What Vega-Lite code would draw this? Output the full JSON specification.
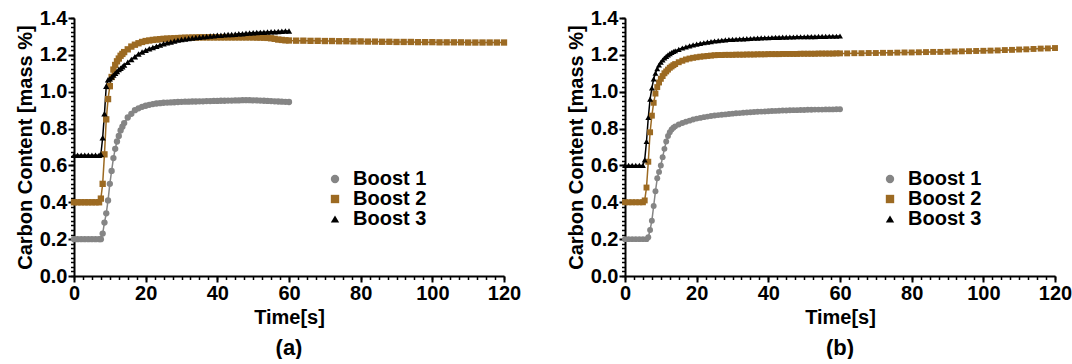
{
"$schema": "https://vega.github.io/schema/vega-lite/v6.json",
"padding": {"left": 15, "top": 8, "right": 0, "bottom": 0},
"config": {
  "font": "Liberation Sans",
  "view": {"stroke": null},
  "axis": {"domainColor": "black", "domainWidth": 2, "tickColor": "black", "tickWidth": 2, "tickSize": 6, "labelFont": "Liberation Sans", "labelFontSize": 20, "labelFontWeight": "bold", "labelColor": "black", "labelFlush": false, "labelOverlap": false, "titleFont": "Liberation Sans", "titleFontSize": 20, "titleFontWeight": "bold", "titleColor": "black", "grid": false, "labelPadding": 1},
  "legend": {"title": null, "labelFont": "Liberation Sans", "labelFontSize": 20, "labelFontWeight": "bold", "labelColor": "black", "rowPadding": 0, "labelOffset": 8, "symbolSize": 70, "symbolStrokeWidth": 0},
  "title": {"font": "Liberation Sans", "fontSize": 22, "fontWeight": "bold", "color": "black"}
},
"datasets": {
"a": [
{"s":"Boost 1","t":0,"c":0.2},{"s":"Boost 1","t":1,"c":0.2},{"s":"Boost 1","t":2,"c":0.2},{"s":"Boost 1","t":3,"c":0.2},{"s":"Boost 1","t":4,"c":0.2},{"s":"Boost 1","t":5,"c":0.2},{"s":"Boost 1","t":6,"c":0.2},{"s":"Boost 1","t":7,"c":0.2},{"s":"Boost 1","t":7.5,"c":0.2},{"s":"Boost 1","t":8,"c":0.23},{"s":"Boost 1","t":8.5,"c":0.29},{"s":"Boost 1","t":9,"c":0.34},{"s":"Boost 1","t":9.5,"c":0.41},{"s":"Boost 1","t":10,"c":0.5},{"s":"Boost 1","t":10.5,"c":0.57},{"s":"Boost 1","t":11,"c":0.64},{"s":"Boost 1","t":11.5,"c":0.69},{"s":"Boost 1","t":12,"c":0.73},{"s":"Boost 1","t":12.5,"c":0.76},{"s":"Boost 1","t":13,"c":0.79},{"s":"Boost 1","t":13.5,"c":0.81},{"s":"Boost 1","t":14,"c":0.83},{"s":"Boost 1","t":15,"c":0.86},{"s":"Boost 1","t":16,"c":0.88},{"s":"Boost 1","t":17,"c":0.9},{"s":"Boost 1","t":18,"c":0.91},{"s":"Boost 1","t":19,"c":0.918},{"s":"Boost 1","t":20,"c":0.924},{"s":"Boost 1","t":21,"c":0.929},{"s":"Boost 1","t":22,"c":0.933},{"s":"Boost 1","t":23,"c":0.936},{"s":"Boost 1","t":24,"c":0.938},{"s":"Boost 1","t":25,"c":0.94},{"s":"Boost 1","t":26,"c":0.941},{"s":"Boost 1","t":27,"c":0.942},{"s":"Boost 1","t":28,"c":0.943},{"s":"Boost 1","t":29,"c":0.944},{"s":"Boost 1","t":30,"c":0.945},{"s":"Boost 1","t":31,"c":0.946},{"s":"Boost 1","t":32,"c":0.946},{"s":"Boost 1","t":33,"c":0.947},{"s":"Boost 1","t":34,"c":0.947},{"s":"Boost 1","t":35,"c":0.948},{"s":"Boost 1","t":36,"c":0.948},{"s":"Boost 1","t":37,"c":0.949},{"s":"Boost 1","t":38,"c":0.949},{"s":"Boost 1","t":39,"c":0.95},{"s":"Boost 1","t":40,"c":0.95},{"s":"Boost 1","t":41,"c":0.951},{"s":"Boost 1","t":42,"c":0.951},{"s":"Boost 1","t":43,"c":0.952},{"s":"Boost 1","t":44,"c":0.952},{"s":"Boost 1","t":45,"c":0.953},{"s":"Boost 1","t":46,"c":0.953},{"s":"Boost 1","t":47,"c":0.954},{"s":"Boost 1","t":48,"c":0.954},{"s":"Boost 1","t":49,"c":0.954},{"s":"Boost 1","t":50,"c":0.953},{"s":"Boost 1","t":51,"c":0.953},{"s":"Boost 1","t":52,"c":0.952},{"s":"Boost 1","t":53,"c":0.951},{"s":"Boost 1","t":54,"c":0.95},{"s":"Boost 1","t":55,"c":0.949},{"s":"Boost 1","t":56,"c":0.948},{"s":"Boost 1","t":57,"c":0.947},{"s":"Boost 1","t":58,"c":0.946},{"s":"Boost 1","t":59,"c":0.945},{"s":"Boost 1","t":60,"c":0.944},
{"s":"Boost 2","t":0,"c":0.4},{"s":"Boost 2","t":1,"c":0.4},{"s":"Boost 2","t":2,"c":0.4},{"s":"Boost 2","t":3,"c":0.4},{"s":"Boost 2","t":4,"c":0.4},{"s":"Boost 2","t":5,"c":0.4},{"s":"Boost 2","t":6,"c":0.4},{"s":"Boost 2","t":7,"c":0.4},{"s":"Boost 2","t":7.5,"c":0.42},{"s":"Boost 2","t":8,"c":0.5},{"s":"Boost 2","t":8.5,"c":0.66},{"s":"Boost 2","t":9,"c":0.85},{"s":"Boost 2","t":9.5,"c":0.96},{"s":"Boost 2","t":10,"c":1.03},{"s":"Boost 2","t":10.5,"c":1.08},{"s":"Boost 2","t":11,"c":1.12},{"s":"Boost 2","t":11.5,"c":1.145},{"s":"Boost 2","t":12,"c":1.165},{"s":"Boost 2","t":12.5,"c":1.18},{"s":"Boost 2","t":13,"c":1.195},{"s":"Boost 2","t":13.5,"c":1.205},{"s":"Boost 2","t":14,"c":1.215},{"s":"Boost 2","t":15,"c":1.23},{"s":"Boost 2","t":16,"c":1.245},{"s":"Boost 2","t":17,"c":1.255},{"s":"Boost 2","t":18,"c":1.263},{"s":"Boost 2","t":19,"c":1.27},{"s":"Boost 2","t":20,"c":1.275},{"s":"Boost 2","t":21,"c":1.278},{"s":"Boost 2","t":22,"c":1.281},{"s":"Boost 2","t":23,"c":1.283},{"s":"Boost 2","t":24,"c":1.285},{"s":"Boost 2","t":25,"c":1.287},{"s":"Boost 2","t":26,"c":1.288},{"s":"Boost 2","t":27,"c":1.289},{"s":"Boost 2","t":28,"c":1.29},{"s":"Boost 2","t":29,"c":1.291},{"s":"Boost 2","t":30,"c":1.292},{"s":"Boost 2","t":31,"c":1.293},{"s":"Boost 2","t":32,"c":1.293},{"s":"Boost 2","t":33,"c":1.294},{"s":"Boost 2","t":34,"c":1.294},{"s":"Boost 2","t":35,"c":1.295},{"s":"Boost 2","t":36,"c":1.295},{"s":"Boost 2","t":37,"c":1.295},{"s":"Boost 2","t":38,"c":1.295},{"s":"Boost 2","t":39,"c":1.295},{"s":"Boost 2","t":40,"c":1.295},{"s":"Boost 2","t":41,"c":1.295},{"s":"Boost 2","t":42,"c":1.295},{"s":"Boost 2","t":43,"c":1.295},{"s":"Boost 2","t":44,"c":1.295},{"s":"Boost 2","t":45,"c":1.295},{"s":"Boost 2","t":46,"c":1.295},{"s":"Boost 2","t":47,"c":1.295},{"s":"Boost 2","t":48,"c":1.295},{"s":"Boost 2","t":49,"c":1.295},{"s":"Boost 2","t":50,"c":1.295},{"s":"Boost 2","t":51,"c":1.294},{"s":"Boost 2","t":52,"c":1.294},{"s":"Boost 2","t":53,"c":1.293},{"s":"Boost 2","t":54,"c":1.292},{"s":"Boost 2","t":55,"c":1.29},{"s":"Boost 2","t":56,"c":1.287},{"s":"Boost 2","t":57,"c":1.283},{"s":"Boost 2","t":58,"c":1.281},{"s":"Boost 2","t":59,"c":1.279},{"s":"Boost 2","t":60,"c":1.278},{"s":"Boost 2","t":62,"c":1.277},{"s":"Boost 2","t":64,"c":1.277},{"s":"Boost 2","t":66,"c":1.276},{"s":"Boost 2","t":68,"c":1.276},{"s":"Boost 2","t":70,"c":1.275},{"s":"Boost 2","t":72,"c":1.275},{"s":"Boost 2","t":74,"c":1.274},{"s":"Boost 2","t":76,"c":1.274},{"s":"Boost 2","t":78,"c":1.273},{"s":"Boost 2","t":80,"c":1.273},{"s":"Boost 2","t":82,"c":1.272},{"s":"Boost 2","t":84,"c":1.272},{"s":"Boost 2","t":86,"c":1.271},{"s":"Boost 2","t":88,"c":1.271},{"s":"Boost 2","t":90,"c":1.27},{"s":"Boost 2","t":92,"c":1.27},{"s":"Boost 2","t":94,"c":1.27},{"s":"Boost 2","t":96,"c":1.269},{"s":"Boost 2","t":98,"c":1.269},{"s":"Boost 2","t":100,"c":1.269},{"s":"Boost 2","t":102,"c":1.268},{"s":"Boost 2","t":104,"c":1.268},{"s":"Boost 2","t":106,"c":1.268},{"s":"Boost 2","t":108,"c":1.268},{"s":"Boost 2","t":110,"c":1.267},{"s":"Boost 2","t":112,"c":1.267},{"s":"Boost 2","t":114,"c":1.267},{"s":"Boost 2","t":116,"c":1.267},{"s":"Boost 2","t":118,"c":1.267},{"s":"Boost 2","t":120,"c":1.267},
{"s":"Boost 3","t":0,"c":0.655},{"s":"Boost 3","t":1,"c":0.655},{"s":"Boost 3","t":2,"c":0.655},{"s":"Boost 3","t":3,"c":0.655},{"s":"Boost 3","t":4,"c":0.655},{"s":"Boost 3","t":5,"c":0.655},{"s":"Boost 3","t":6,"c":0.655},{"s":"Boost 3","t":7,"c":0.655},{"s":"Boost 3","t":7.5,"c":0.66},{"s":"Boost 3","t":8,"c":0.75},{"s":"Boost 3","t":8.5,"c":0.88},{"s":"Boost 3","t":9,"c":1.03},{"s":"Boost 3","t":9.5,"c":1.065},{"s":"Boost 3","t":10,"c":1.07},{"s":"Boost 3","t":10.5,"c":1.08},{"s":"Boost 3","t":11,"c":1.09},{"s":"Boost 3","t":11.5,"c":1.1},{"s":"Boost 3","t":12,"c":1.11},{"s":"Boost 3","t":12.5,"c":1.12},{"s":"Boost 3","t":13,"c":1.127},{"s":"Boost 3","t":13.5,"c":1.136},{"s":"Boost 3","t":14,"c":1.145},{"s":"Boost 3","t":15,"c":1.16},{"s":"Boost 3","t":16,"c":1.175},{"s":"Boost 3","t":17,"c":1.19},{"s":"Boost 3","t":18,"c":1.205},{"s":"Boost 3","t":19,"c":1.215},{"s":"Boost 3","t":20,"c":1.225},{"s":"Boost 3","t":21,"c":1.233},{"s":"Boost 3","t":22,"c":1.24},{"s":"Boost 3","t":23,"c":1.247},{"s":"Boost 3","t":24,"c":1.253},{"s":"Boost 3","t":25,"c":1.26},{"s":"Boost 3","t":26,"c":1.265},{"s":"Boost 3","t":27,"c":1.27},{"s":"Boost 3","t":28,"c":1.275},{"s":"Boost 3","t":29,"c":1.28},{"s":"Boost 3","t":30,"c":1.283},{"s":"Boost 3","t":31,"c":1.286},{"s":"Boost 3","t":32,"c":1.289},{"s":"Boost 3","t":33,"c":1.292},{"s":"Boost 3","t":34,"c":1.294},{"s":"Boost 3","t":35,"c":1.296},{"s":"Boost 3","t":36,"c":1.298},{"s":"Boost 3","t":37,"c":1.3},{"s":"Boost 3","t":38,"c":1.302},{"s":"Boost 3","t":39,"c":1.304},{"s":"Boost 3","t":40,"c":1.306},{"s":"Boost 3","t":41,"c":1.307},{"s":"Boost 3","t":42,"c":1.309},{"s":"Boost 3","t":43,"c":1.31},{"s":"Boost 3","t":44,"c":1.311},{"s":"Boost 3","t":45,"c":1.312},{"s":"Boost 3","t":46,"c":1.314},{"s":"Boost 3","t":47,"c":1.315},{"s":"Boost 3","t":48,"c":1.317},{"s":"Boost 3","t":49,"c":1.318},{"s":"Boost 3","t":50,"c":1.32},{"s":"Boost 3","t":51,"c":1.321},{"s":"Boost 3","t":52,"c":1.322},{"s":"Boost 3","t":53,"c":1.323},{"s":"Boost 3","t":54,"c":1.324},{"s":"Boost 3","t":55,"c":1.325},{"s":"Boost 3","t":56,"c":1.326},{"s":"Boost 3","t":57,"c":1.327},{"s":"Boost 3","t":58,"c":1.328},{"s":"Boost 3","t":59,"c":1.329},{"s":"Boost 3","t":60,"c":1.33}
],
"b": [
{"s":"Boost 1","t":0,"c":0.2},{"s":"Boost 1","t":1,"c":0.2},{"s":"Boost 1","t":2,"c":0.2},{"s":"Boost 1","t":3,"c":0.2},{"s":"Boost 1","t":4,"c":0.2},{"s":"Boost 1","t":5,"c":0.2},{"s":"Boost 1","t":6,"c":0.2},{"s":"Boost 1","t":6.5,"c":0.21},{"s":"Boost 1","t":7,"c":0.25},{"s":"Boost 1","t":7.5,"c":0.3},{"s":"Boost 1","t":8,"c":0.38},{"s":"Boost 1","t":8.5,"c":0.46},{"s":"Boost 1","t":9,"c":0.53},{"s":"Boost 1","t":9.5,"c":0.565},{"s":"Boost 1","t":10,"c":0.6},{"s":"Boost 1","t":10.5,"c":0.645},{"s":"Boost 1","t":11,"c":0.69},{"s":"Boost 1","t":11.5,"c":0.73},{"s":"Boost 1","t":12,"c":0.76},{"s":"Boost 1","t":12.5,"c":0.78},{"s":"Boost 1","t":13,"c":0.795},{"s":"Boost 1","t":13.5,"c":0.805},{"s":"Boost 1","t":14,"c":0.812},{"s":"Boost 1","t":15,"c":0.822},{"s":"Boost 1","t":16,"c":0.83},{"s":"Boost 1","t":17,"c":0.837},{"s":"Boost 1","t":18,"c":0.843},{"s":"Boost 1","t":19,"c":0.849},{"s":"Boost 1","t":20,"c":0.854},{"s":"Boost 1","t":21,"c":0.858},{"s":"Boost 1","t":22,"c":0.862},{"s":"Boost 1","t":23,"c":0.865},{"s":"Boost 1","t":24,"c":0.868},{"s":"Boost 1","t":25,"c":0.871},{"s":"Boost 1","t":26,"c":0.873},{"s":"Boost 1","t":27,"c":0.875},{"s":"Boost 1","t":28,"c":0.877},{"s":"Boost 1","t":29,"c":0.879},{"s":"Boost 1","t":30,"c":0.881},{"s":"Boost 1","t":31,"c":0.883},{"s":"Boost 1","t":32,"c":0.884},{"s":"Boost 1","t":33,"c":0.886},{"s":"Boost 1","t":34,"c":0.887},{"s":"Boost 1","t":35,"c":0.889},{"s":"Boost 1","t":36,"c":0.89},{"s":"Boost 1","t":37,"c":0.891},{"s":"Boost 1","t":38,"c":0.892},{"s":"Boost 1","t":39,"c":0.893},{"s":"Boost 1","t":40,"c":0.894},{"s":"Boost 1","t":41,"c":0.895},{"s":"Boost 1","t":42,"c":0.896},{"s":"Boost 1","t":43,"c":0.897},{"s":"Boost 1","t":44,"c":0.898},{"s":"Boost 1","t":45,"c":0.898},{"s":"Boost 1","t":46,"c":0.899},{"s":"Boost 1","t":47,"c":0.9},{"s":"Boost 1","t":48,"c":0.9},{"s":"Boost 1","t":49,"c":0.901},{"s":"Boost 1","t":50,"c":0.901},{"s":"Boost 1","t":51,"c":0.902},{"s":"Boost 1","t":52,"c":0.902},{"s":"Boost 1","t":53,"c":0.903},{"s":"Boost 1","t":54,"c":0.903},{"s":"Boost 1","t":55,"c":0.903},{"s":"Boost 1","t":56,"c":0.904},{"s":"Boost 1","t":57,"c":0.904},{"s":"Boost 1","t":58,"c":0.904},{"s":"Boost 1","t":59,"c":0.905},{"s":"Boost 1","t":60,"c":0.905},
{"s":"Boost 2","t":0,"c":0.4},{"s":"Boost 2","t":1,"c":0.4},{"s":"Boost 2","t":2,"c":0.4},{"s":"Boost 2","t":3,"c":0.4},{"s":"Boost 2","t":4,"c":0.4},{"s":"Boost 2","t":5,"c":0.4},{"s":"Boost 2","t":5.5,"c":0.41},{"s":"Boost 2","t":6,"c":0.48},{"s":"Boost 2","t":6.5,"c":0.62},{"s":"Boost 2","t":7,"c":0.78},{"s":"Boost 2","t":7.5,"c":0.87},{"s":"Boost 2","t":8,"c":0.94},{"s":"Boost 2","t":8.5,"c":0.99},{"s":"Boost 2","t":9,"c":1.025},{"s":"Boost 2","t":9.5,"c":1.05},{"s":"Boost 2","t":10,"c":1.07},{"s":"Boost 2","t":10.5,"c":1.085},{"s":"Boost 2","t":11,"c":1.1},{"s":"Boost 2","t":11.5,"c":1.11},{"s":"Boost 2","t":12,"c":1.12},{"s":"Boost 2","t":12.5,"c":1.13},{"s":"Boost 2","t":13,"c":1.137},{"s":"Boost 2","t":13.5,"c":1.144},{"s":"Boost 2","t":14,"c":1.15},{"s":"Boost 2","t":15,"c":1.16},{"s":"Boost 2","t":16,"c":1.168},{"s":"Boost 2","t":17,"c":1.175},{"s":"Boost 2","t":18,"c":1.18},{"s":"Boost 2","t":19,"c":1.184},{"s":"Boost 2","t":20,"c":1.187},{"s":"Boost 2","t":21,"c":1.19},{"s":"Boost 2","t":22,"c":1.192},{"s":"Boost 2","t":23,"c":1.194},{"s":"Boost 2","t":24,"c":1.196},{"s":"Boost 2","t":25,"c":1.198},{"s":"Boost 2","t":26,"c":1.199},{"s":"Boost 2","t":27,"c":1.199},{"s":"Boost 2","t":28,"c":1.2},{"s":"Boost 2","t":29,"c":1.2},{"s":"Boost 2","t":30,"c":1.2},{"s":"Boost 2","t":31,"c":1.201},{"s":"Boost 2","t":32,"c":1.201},{"s":"Boost 2","t":33,"c":1.201},{"s":"Boost 2","t":34,"c":1.202},{"s":"Boost 2","t":35,"c":1.202},{"s":"Boost 2","t":36,"c":1.202},{"s":"Boost 2","t":37,"c":1.203},{"s":"Boost 2","t":38,"c":1.203},{"s":"Boost 2","t":39,"c":1.203},{"s":"Boost 2","t":40,"c":1.204},{"s":"Boost 2","t":41,"c":1.204},{"s":"Boost 2","t":42,"c":1.204},{"s":"Boost 2","t":43,"c":1.204},{"s":"Boost 2","t":44,"c":1.205},{"s":"Boost 2","t":45,"c":1.205},{"s":"Boost 2","t":46,"c":1.205},{"s":"Boost 2","t":47,"c":1.205},{"s":"Boost 2","t":48,"c":1.205},{"s":"Boost 2","t":49,"c":1.206},{"s":"Boost 2","t":50,"c":1.206},{"s":"Boost 2","t":51,"c":1.206},{"s":"Boost 2","t":52,"c":1.206},{"s":"Boost 2","t":53,"c":1.206},{"s":"Boost 2","t":54,"c":1.207},{"s":"Boost 2","t":55,"c":1.207},{"s":"Boost 2","t":56,"c":1.207},{"s":"Boost 2","t":57,"c":1.207},{"s":"Boost 2","t":58,"c":1.207},{"s":"Boost 2","t":59,"c":1.208},{"s":"Boost 2","t":60,"c":1.208},{"s":"Boost 2","t":62,"c":1.208},{"s":"Boost 2","t":64,"c":1.209},{"s":"Boost 2","t":66,"c":1.209},{"s":"Boost 2","t":68,"c":1.21},{"s":"Boost 2","t":70,"c":1.21},{"s":"Boost 2","t":72,"c":1.211},{"s":"Boost 2","t":74,"c":1.211},{"s":"Boost 2","t":76,"c":1.212},{"s":"Boost 2","t":78,"c":1.213},{"s":"Boost 2","t":80,"c":1.213},{"s":"Boost 2","t":82,"c":1.214},{"s":"Boost 2","t":84,"c":1.215},{"s":"Boost 2","t":86,"c":1.216},{"s":"Boost 2","t":88,"c":1.216},{"s":"Boost 2","t":90,"c":1.217},{"s":"Boost 2","t":92,"c":1.218},{"s":"Boost 2","t":94,"c":1.219},{"s":"Boost 2","t":96,"c":1.22},{"s":"Boost 2","t":98,"c":1.221},{"s":"Boost 2","t":100,"c":1.222},{"s":"Boost 2","t":102,"c":1.223},{"s":"Boost 2","t":104,"c":1.224},{"s":"Boost 2","t":106,"c":1.226},{"s":"Boost 2","t":108,"c":1.227},{"s":"Boost 2","t":110,"c":1.229},{"s":"Boost 2","t":112,"c":1.23},{"s":"Boost 2","t":114,"c":1.232},{"s":"Boost 2","t":116,"c":1.234},{"s":"Boost 2","t":118,"c":1.235},{"s":"Boost 2","t":120,"c":1.237},
{"s":"Boost 3","t":0,"c":0.6},{"s":"Boost 3","t":1,"c":0.6},{"s":"Boost 3","t":2,"c":0.6},{"s":"Boost 3","t":3,"c":0.6},{"s":"Boost 3","t":4,"c":0.6},{"s":"Boost 3","t":5,"c":0.6},{"s":"Boost 3","t":5.5,"c":0.63},{"s":"Boost 3","t":6,"c":0.73},{"s":"Boost 3","t":6.5,"c":0.86},{"s":"Boost 3","t":7,"c":0.96},{"s":"Boost 3","t":7.5,"c":1.02},{"s":"Boost 3","t":8,"c":1.07},{"s":"Boost 3","t":8.5,"c":1.1},{"s":"Boost 3","t":9,"c":1.125},{"s":"Boost 3","t":9.5,"c":1.145},{"s":"Boost 3","t":10,"c":1.16},{"s":"Boost 3","t":10.5,"c":1.172},{"s":"Boost 3","t":11,"c":1.183},{"s":"Boost 3","t":11.5,"c":1.192},{"s":"Boost 3","t":12,"c":1.2},{"s":"Boost 3","t":12.5,"c":1.207},{"s":"Boost 3","t":13,"c":1.213},{"s":"Boost 3","t":13.5,"c":1.218},{"s":"Boost 3","t":14,"c":1.222},{"s":"Boost 3","t":15,"c":1.23},{"s":"Boost 3","t":16,"c":1.237},{"s":"Boost 3","t":17,"c":1.243},{"s":"Boost 3","t":18,"c":1.249},{"s":"Boost 3","t":19,"c":1.254},{"s":"Boost 3","t":20,"c":1.258},{"s":"Boost 3","t":21,"c":1.262},{"s":"Boost 3","t":22,"c":1.266},{"s":"Boost 3","t":23,"c":1.269},{"s":"Boost 3","t":24,"c":1.272},{"s":"Boost 3","t":25,"c":1.275},{"s":"Boost 3","t":26,"c":1.277},{"s":"Boost 3","t":27,"c":1.279},{"s":"Boost 3","t":28,"c":1.281},{"s":"Boost 3","t":29,"c":1.283},{"s":"Boost 3","t":30,"c":1.284},{"s":"Boost 3","t":31,"c":1.285},{"s":"Boost 3","t":32,"c":1.286},{"s":"Boost 3","t":33,"c":1.287},{"s":"Boost 3","t":34,"c":1.288},{"s":"Boost 3","t":35,"c":1.289},{"s":"Boost 3","t":36,"c":1.29},{"s":"Boost 3","t":37,"c":1.291},{"s":"Boost 3","t":38,"c":1.292},{"s":"Boost 3","t":39,"c":1.293},{"s":"Boost 3","t":40,"c":1.293},{"s":"Boost 3","t":41,"c":1.294},{"s":"Boost 3","t":42,"c":1.295},{"s":"Boost 3","t":43,"c":1.295},{"s":"Boost 3","t":44,"c":1.296},{"s":"Boost 3","t":45,"c":1.296},{"s":"Boost 3","t":46,"c":1.297},{"s":"Boost 3","t":47,"c":1.297},{"s":"Boost 3","t":48,"c":1.298},{"s":"Boost 3","t":49,"c":1.298},{"s":"Boost 3","t":50,"c":1.298},{"s":"Boost 3","t":51,"c":1.299},{"s":"Boost 3","t":52,"c":1.299},{"s":"Boost 3","t":53,"c":1.299},{"s":"Boost 3","t":54,"c":1.3},{"s":"Boost 3","t":55,"c":1.3},{"s":"Boost 3","t":56,"c":1.3},{"s":"Boost 3","t":57,"c":1.301},{"s":"Boost 3","t":58,"c":1.301},{"s":"Boost 3","t":59,"c":1.301},{"s":"Boost 3","t":60,"c":1.302}
]
},
"resolve": {"legend": {"color": "independent", "shape": "independent"}},
"spacing": 45,
"hconcat": [
{
  "width": 430, "height": 258,
  "data": {"name": "a"},
  "title": {"text": "(a)", "orient": "bottom", "offset": 11},
  "resolve": {"axis": {"x": "independent", "y": "independent"}},
  "layer": [
    {"mark": {"type": "line", "strokeWidth": 1.5},
     "encoding": {
       "x": {"field": "t", "type": "quantitative", "scale": {"domain": [0, 120], "nice": false}, "axis": {"title": "Time[s]", "values": [0, 20, 40, 60, 80, 100, 120], "titlePadding": 4}},
       "y": {"field": "c", "type": "quantitative", "scale": {"domain": [0, 1.4], "nice": false}, "axis": {"title": "Carbon Content [mass %]", "values": [0, 0.2, 0.4, 0.6, 0.8, 1.0, 1.2, 1.4], "format": ".1f", "titlePadding": 4}},
       "color": {"field": "s", "type": "nominal", "scale": {"domain": ["Boost 1", "Boost 2", "Boost 3"], "range": ["#858585", "#9c6a22", "#000000"]}, "legend": {"orient": "none", "legendX": 251, "legendY": 151}}
     }},
    {"mark": {"type": "point", "filled": true, "size": 40, "opacity": 1},
     "encoding": {
       "x": {"field": "t", "type": "quantitative", "axis": null},
       "y": {"field": "c", "type": "quantitative", "axis": null},
       "color": {"field": "s", "type": "nominal", "legend": {"orient": "none", "legendX": 251, "legendY": 151}},
       "shape": {"field": "s", "type": "nominal", "scale": {"domain": ["Boost 1", "Boost 2", "Boost 3"], "range": ["circle", "square", "triangle-up"]}, "legend": {"orient": "none", "legendX": 251, "legendY": 151}}
     }},
    {"mark": {"type": "point", "opacity": 0},
     "encoding": {
       "x": {"field": "t", "type": "quantitative", "axis": {"orient": "bottom", "title": null, "labels": false, "domain": false, "tickSize": 3.5, "tickWidth": 1.5, "values": [0,2.5,5,7.5,10,12.5,15,17.5,20,22.5,25,27.5,30,32.5,35,37.5,40,42.5,45,47.5,50,52.5,55,57.5,60,62.5,65,67.5,70,72.5,75,77.5,80,82.5,85,87.5,90,92.5,95,97.5,100,102.5,105,107.5,110,112.5,115,117.5,120]}},
       "y": {"field": "c", "type": "quantitative", "axis": {"orient": "left", "title": null, "labels": false, "domain": false, "tickSize": 3.5, "tickWidth": 1.5, "values": [0,0.025,0.05,0.075,0.1,0.125,0.15,0.175,0.2,0.225,0.25,0.275,0.3,0.325,0.35,0.375,0.4,0.425,0.45,0.475,0.5,0.525,0.55,0.575,0.6,0.625,0.65,0.675,0.7,0.725,0.75,0.775,0.8,0.825,0.85,0.875,0.9,0.925,0.95,0.975,1,1.025,1.05,1.075,1.1,1.125,1.15,1.175,1.2,1.225,1.25,1.275,1.3,1.325,1.35,1.375,1.4]}}
     }}
  ]
},
{
  "width": 430, "height": 258,
  "data": {"name": "b"},
  "title": {"text": "(b)", "orient": "bottom", "offset": 11},
  "resolve": {"axis": {"x": "independent", "y": "independent"}},
  "layer": [
    {"mark": {"type": "line", "strokeWidth": 1.5},
     "encoding": {
       "x": {"field": "t", "type": "quantitative", "scale": {"domain": [0, 120], "nice": false}, "axis": {"title": "Time[s]", "values": [0, 20, 40, 60, 80, 100, 120], "titlePadding": 4}},
       "y": {"field": "c", "type": "quantitative", "scale": {"domain": [0, 1.4], "nice": false}, "axis": {"title": "Carbon Content [mass %]", "values": [0, 0.2, 0.4, 0.6, 0.8, 1.0, 1.2, 1.4], "format": ".1f", "titlePadding": 4}},
       "color": {"field": "s", "type": "nominal", "scale": {"domain": ["Boost 1", "Boost 2", "Boost 3"], "range": ["#858585", "#9c6a22", "#000000"]}, "legend": {"orient": "none", "legendX": 255, "legendY": 151}}
     }},
    {"mark": {"type": "point", "filled": true, "size": 35, "opacity": 1},
     "encoding": {
       "x": {"field": "t", "type": "quantitative", "axis": null},
       "y": {"field": "c", "type": "quantitative", "axis": null},
       "color": {"field": "s", "type": "nominal", "legend": {"orient": "none", "legendX": 255, "legendY": 151}},
       "shape": {"field": "s", "type": "nominal", "scale": {"domain": ["Boost 1", "Boost 2", "Boost 3"], "range": ["circle", "square", "triangle-up"]}, "legend": {"orient": "none", "legendX": 255, "legendY": 151}}
     }},
    {"mark": {"type": "point", "opacity": 0},
     "encoding": {
       "x": {"field": "t", "type": "quantitative", "axis": {"orient": "bottom", "title": null, "labels": false, "domain": false, "tickSize": 3.5, "tickWidth": 1.5, "values": [0,2.5,5,7.5,10,12.5,15,17.5,20,22.5,25,27.5,30,32.5,35,37.5,40,42.5,45,47.5,50,52.5,55,57.5,60,62.5,65,67.5,70,72.5,75,77.5,80,82.5,85,87.5,90,92.5,95,97.5,100,102.5,105,107.5,110,112.5,115,117.5,120]}},
       "y": {"field": "c", "type": "quantitative", "axis": {"orient": "left", "title": null, "labels": false, "domain": false, "tickSize": 3.5, "tickWidth": 1.5, "values": [0,0.025,0.05,0.075,0.1,0.125,0.15,0.175,0.2,0.225,0.25,0.275,0.3,0.325,0.35,0.375,0.4,0.425,0.45,0.475,0.5,0.525,0.55,0.575,0.6,0.625,0.65,0.675,0.7,0.725,0.75,0.775,0.8,0.825,0.85,0.875,0.9,0.925,0.95,0.975,1,1.025,1.05,1.075,1.1,1.125,1.15,1.175,1.2,1.225,1.25,1.275,1.3,1.325,1.35,1.375,1.4]}}
     }}
  ]
}
]
}
